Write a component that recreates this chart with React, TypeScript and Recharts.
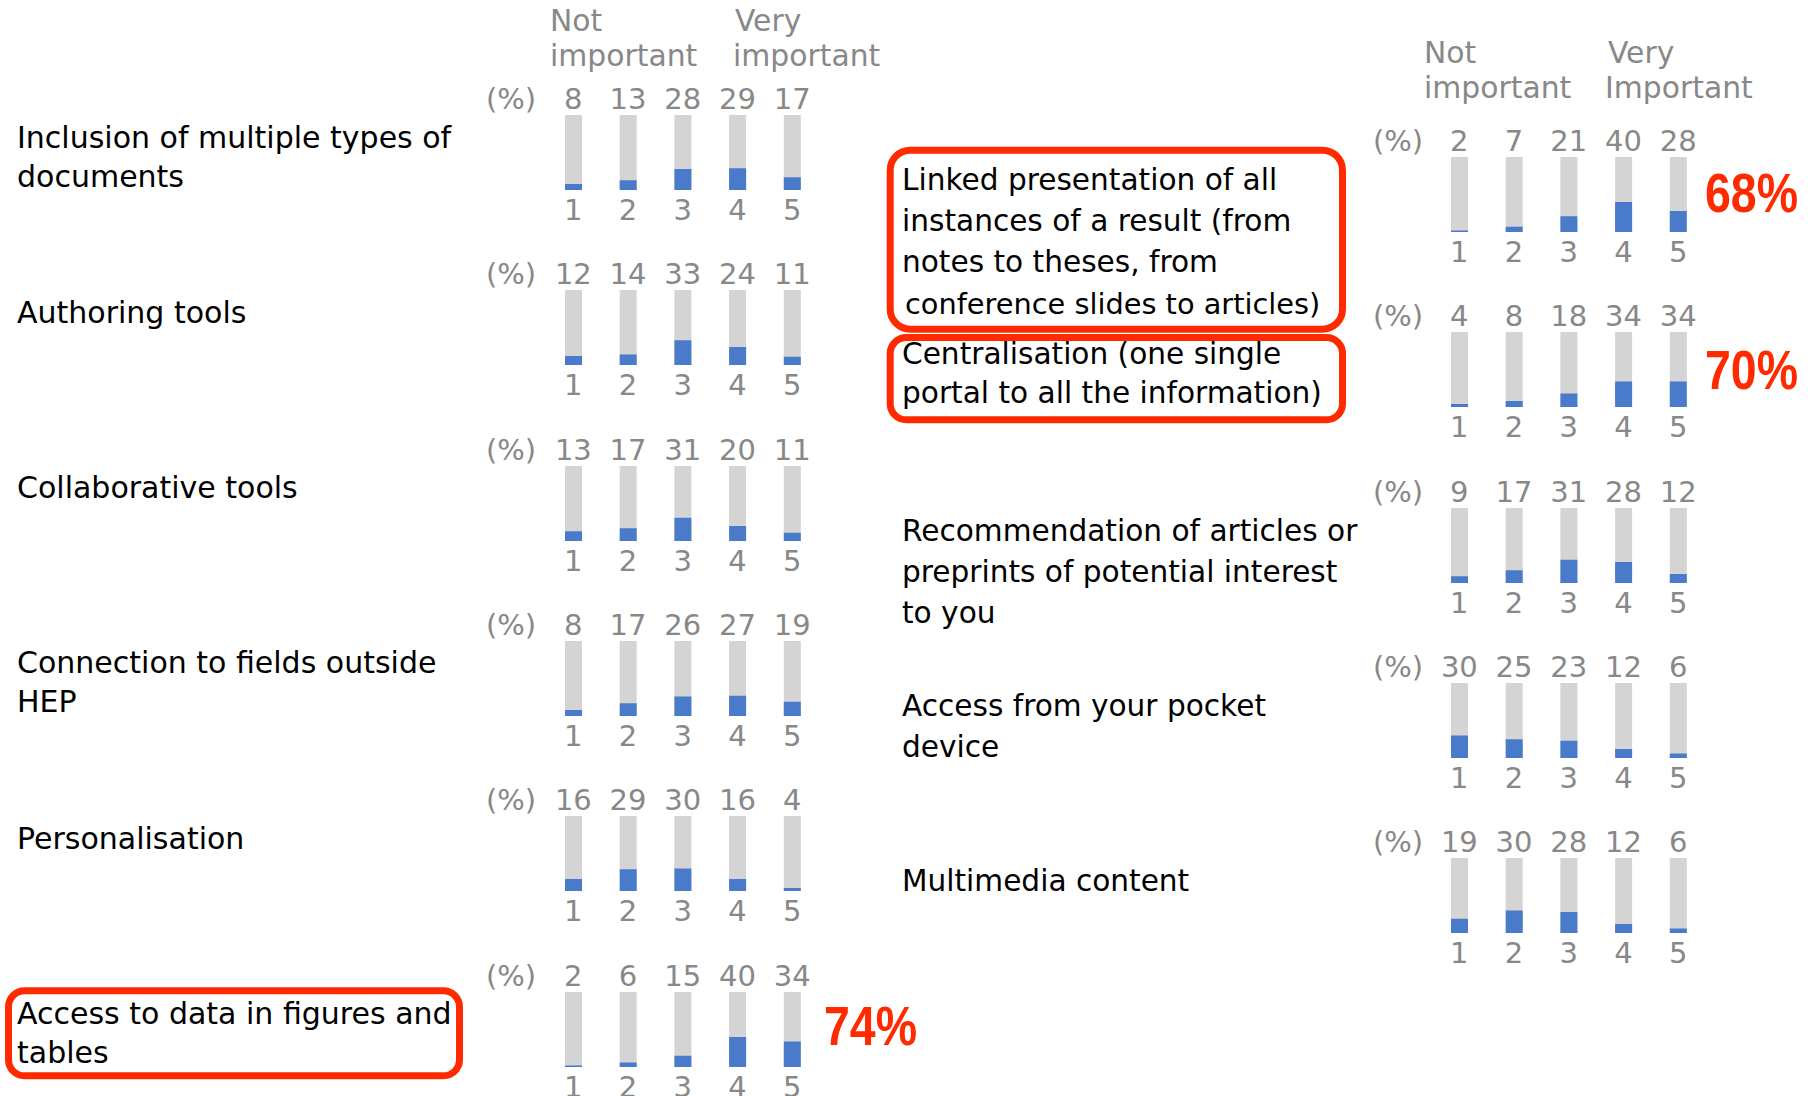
import React from 'react';
import { BarChart, Bar, XAxis, YAxis } from 'recharts';

// ---------- data ----------
const scaleTicks = ['1', '2', '3', '4', '5'];

const leftQuestions: string[][] = [
  ['Inclusion of multiple types of', 'documents'],
  ['Authoring tools'],
  ['Collaborative tools'],
  ['Connection to fields outside', 'HEP'],
  ['Personalisation'],
  ['Access to data in figures and', 'tables'],
];
const leftValues: number[][] = [
  [8, 13, 28, 29, 17],
  [12, 14, 33, 24, 11],
  [13, 17, 31, 20, 11],
  [8, 17, 26, 27, 19],
  [16, 29, 30, 16, 4],
  [2, 6, 15, 40, 34],
];
const leftHighlight = ['', '', '', '', '', '74%'];

const rightQuestions: string[][] = [
  ['Linked presentation of all', 'instances of a result (from', 'notes to theses, from', 'conference slides to articles)'],
  ['Centralisation (one single', 'portal to all the information)'],
  ['Recommendation of articles or', 'preprints of potential interest', 'to you'],
  ['Access from your pocket', 'device'],
  ['Multimedia content'],
];
const rightValues: number[][] = [
  [2, 7, 21, 40, 28],
  [4, 8, 18, 34, 34],
  [9, 17, 31, 28, 12],
  [30, 25, 23, 12, 6],
  [19, 30, 28, 12, 6],
];
const rightHighlight = ['68%', '70%', '', '', ''];

const leftHeader = { low: ['Not', 'important'], high: ['Very', 'important'] };
const rightHeader = { low: ['Not', 'important'], high: ['Very', 'Important'] };
const unitLabel = '(%)';

// ---------- style / layout ----------
const FONT = "'DejaVu Sans', Verdana, sans-serif";
const GRAY_TEXT = '#888888';
const BAR_BG = '#d4d4d4';
const BAR_FG = '#4a7bcb';
const RED = '#ff2a00';

const PLOT_W = 273.5;
const PLOT_H = 75;
const AXIS_H = 40;
const LEFT_X = 545.65;
const LEFT_TOP0 = 115;
const LEFT_PITCH = 175.3;
const RIGHT_X = 1431.65;
const RIGHT_TOP0 = 156.7;
const RIGHT_PITCH = 175.4;

function MiniChart({ values, x, top }: { values: number[]; x: number; top: number }) {
  const data = scaleTicks.map((t, i) => ({ cat: t, v: values[i] }));
  const tickStyle = { fill: GRAY_TEXT, fontSize: 29, fontFamily: FONT };
  return (
    <div style={{ position: 'absolute', left: x, top: top - AXIS_H, width: PLOT_W, height: PLOT_H + 2 * AXIS_H }}>
      <BarChart
        width={PLOT_W}
        height={PLOT_H + 2 * AXIS_H}
        data={data}
        margin={{ top: 0, right: 0, bottom: 0, left: 0 }}
        style={{ overflow: 'visible' }}
      >
        <XAxis
          xAxisId="bottom"
          dataKey="cat"
          orientation="bottom"
          height={AXIS_H}
          axisLine={false}
          tickLine={false}
          tickSize={0}
          tickMargin={9}
          interval={0}
          tick={tickStyle}
        />
        <XAxis
          xAxisId="top"
          dataKey="cat"
          orientation="top"
          height={AXIS_H}
          axisLine={false}
          tickLine={false}
          tickSize={0}
          tickMargin={6}
          interval={0}
          tick={tickStyle}
          tickFormatter={(_v: any, i: number) => String(values[i])}
        />
        <YAxis hide domain={[0, 100]} />
        <Bar
          xAxisId="bottom"
          dataKey="v"
          barSize={17}
          fill={BAR_FG}
          background={{ fill: BAR_BG }}
          isAnimationActive={false}
        />
      </BarChart>
    </div>
  );
}

export default function App() {
  const leftTops = leftValues.map((_, i) => LEFT_TOP0 + i * LEFT_PITCH);
  const rightTops = rightValues.map((_, i) => RIGHT_TOP0 + i * RIGHT_PITCH);

  return (
    <div style={{ position: 'absolute', left: 0, top: 0, width: 1820, height: 1096, background: '#fff', overflow: 'hidden' }}>
      {leftValues.map((vals, i) => (
        <MiniChart key={'l' + i} values={vals} x={LEFT_X} top={leftTops[i]} />
      ))}
      {rightValues.map((vals, i) => (
        <MiniChart key={'r' + i} values={vals} x={RIGHT_X} top={rightTops[i]} />
      ))}

      <svg width={1820} height={1096} style={{ position: 'absolute', left: 0, top: 0, pointerEvents: 'none' }} fontFamily={FONT}>
        {/* headers */}
        <g fill={GRAY_TEXT} fontSize={29.8}>
          <text x={550} y={31}>{leftHeader.low[0]}</text>
          <text x={550} y={65.5}>{leftHeader.low[1]}</text>
          <text x={735} y={31}>{leftHeader.high[0]}</text>
          <text x={733} y={65.5}>{leftHeader.high[1]}</text>
          <text x={1424} y={63}>{rightHeader.low[0]}</text>
          <text x={1424} y={98}>{rightHeader.low[1]}</text>
          <text x={1608} y={63}>{rightHeader.high[0]}</text>
          <text x={1605} y={98}>{rightHeader.high[1]}</text>
        </g>

        {/* (%) labels */}
        <g fill={GRAY_TEXT} fontSize={29}>
          {leftTops.map((t, i) => (
            <text key={'pl' + i} x={486} y={t - 6}>{unitLabel}</text>
          ))}
          {rightTops.map((t, i) => (
            <text key={'pr' + i} x={1373} y={t - 6}>{unitLabel}</text>
          ))}
        </g>

        {/* question labels */}
        <g fill="#000" fontSize={30}>
          {leftQuestions.map((lines, i) => (
            <text key={'ql' + i} x={17} y={leftTops[i] + 32.5}>
              {lines.map((ln, j) => (
                <tspan key={j} x={17} y={leftTops[i] + 32.5 + j * 39}>{ln}</tspan>
              ))}
            </text>
          ))}
          {rightQuestions.map((lines, i) => (
            <text key={'qr' + i} x={902} y={rightTops[i] + 32.5}>
              {lines.map((ln, j) => {
                const special = i === 0 && j === 3;
                return (
                  <tspan
                    key={j}
                    x={special ? 905 : 902}
                    y={rightTops[i] + (i === 1 ? 31.7 : 33) + j * (i === 1 ? 39.5 : 41.3)}
                    fontSize={special ? 28.8 : 29.6}
                  >
                    {ln}
                  </tspan>
                );
              })}
            </text>
          ))}
        </g>

        {/* highlight boxes */}
        <g fill="none" stroke={RED} strokeWidth={7}>
          <rect x={5 + 3.5} y={987.3 + 3.5} width={458 - 7} height={92 - 7} rx={16} />
          <rect x={886.7 + 3.5} y={146.7 + 3.5} width={459.3 - 7} height={186 - 7} rx={20} />
          <rect x={886.7 + 3.5} y={334 + 3.5} width={459.3 - 7} height={89.3 - 7} rx={16} />
        </g>

        {/* highlight percentages */}
        <g fill={RED} fontSize={55} fontWeight="bold" fontFamily="'Liberation Sans', Arial, sans-serif">
          {leftHighlight.map((h, i) =>
            h ? (
              <text key={'hl' + i} x={824} y={leftTops[i] + 53.5} textLength={93} lengthAdjust="spacingAndGlyphs">{h}</text>
            ) : null
          )}
          {rightHighlight.map((h, i) =>
            h ? (
              <text key={'hr' + i} x={1705} y={rightTops[i] + (i === 0 ? 55 : 57)} textLength={93} lengthAdjust="spacingAndGlyphs">{h}</text>
            ) : null
          )}
        </g>
      </svg>
    </div>
  );
}
